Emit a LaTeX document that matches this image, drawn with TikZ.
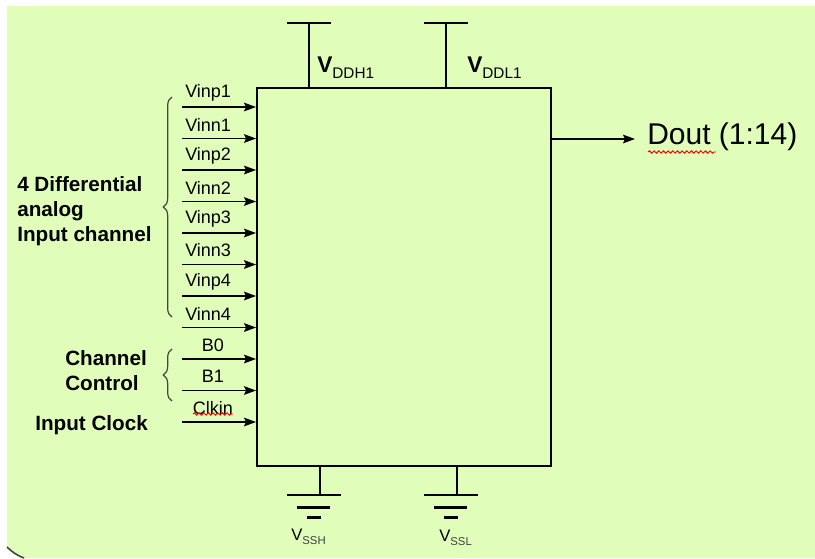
\documentclass[tikz,border=0pt]{standalone}
\usepackage{xcolor}
\usepackage{fontspec}
\setmainfont{Liberation Sans}
\usepackage{tikz}
\usetikzlibrary{arrows.meta,decorations.pathreplacing,decorations.pathmorphing}

\definecolor{bggreen}{RGB}{224,253,186}
\definecolor{bracegray}{RGB}{70,70,60}

\begin{document}
\begin{tikzpicture}[x=0.75pt,y=0.75pt,yscale=-1,xscale=1,
    sig/.style={-{Stealth[length=9pt,width=6.5pt,inset=1.5pt]},line width=1pt},
    rail/.style={line width=1.2pt},
    bar/.style={line width=1.6pt},
    pinlbl/.style={inner sep=0pt,font=\fontsize{13.5}{16}\selectfont},
    grouplbl/.style={inner sep=0pt,align=left,font=\bfseries\fontsize{15.5}{18.75}\selectfont},
    curly/.style={decorate,decoration={brace,amplitude=6.5pt},line width=0.9pt,color=bracegray},
    squiggle/.style={decorate,decoration={snake,amplitude=0.9pt,segment length=3.5pt},red,line width=0.7pt}]
            \useasboundingbox (0,0) rectangle (815,558);

            %Shape: Background
            \fill[bggreen] (7,6) -- (815,6) -- (815,558) -- (24,558) .. controls (16,555) and (11,551) .. (7,547) -- cycle ;
            \draw[color=bracegray,line width=1.2pt] (7,547) .. controls (11,551) and (16,555) .. (24,558) ;

            %Shape: Rectangle (converter block)
            \node[draw,line width=1.2pt,anchor=north west,inner sep=0pt,minimum width=220.5pt,minimum height=283.5pt] (adc) at (256,87) {};

            %Straight Lines: analog inputs
            \foreach \lab [count=\i] in {Vinp1,Vinn1,Vinp2,Vinn2,Vinp3,Vinn3,Vinp4,Vinn4}{
              \pgfmathsetmacro{\yy}{107+31.5*(\i-1)}
              \coordinate (in\i) at (182,\yy);
              \draw[sig] (in\i) -- (in\i -| adc.west);
              % Text Node
              \node[pinlbl,anchor=west] (lbl-\lab) at (185,\yy-14) {\lab};
            }
            %Straight Lines: control and clock inputs
            \foreach \lab [count=\i from 9] in {B0,B1,Clkin}{
              \pgfmathsetmacro{\yy}{107+31.5*(\i-1)}
              \coordinate (in\i) at (182,\yy);
              \draw[sig] (in\i) -- (in\i -| adc.west);
              % Text Node
              \node[pinlbl] (lbl-\lab) at (213,\yy-14) {\lab};
            }
            \draw[squiggle] (193,414) -- (233,414) ;

            %Braces
            \draw[curly] (172,317) -- (172,97) ;
            \draw[curly] (172,401) -- (172,349) ;

            % Text Node
            \node[grouplbl,anchor=north west] (grpdiff) at (17,176) {4 Differential\\analog\\Input channel};
            % Text Node
            \node[grouplbl,anchor=north west] (grpctrl) at (65,350) {Channel\\Control};
            % Text Node
            \node[grouplbl,anchor=west] (grpclk) at (35,425) {Input Clock};

            %Straight Lines: output
            \coordinate (dtip) at (635,139);
            \draw[sig] (dtip -| adc.east) -- (dtip) ;
            % Text Node
            \node[anchor=west,inner sep=0pt,font=\fontsize{22.5}{26}\selectfont] (dout) at (647,137) {Dout (1:14)};
            \draw[squiggle] (648,152) -- (716,152) ;

            %Supply rails (top)
            \coordinate (vddh) at (309,23);
            \coordinate (vddl) at (446,23);
            \foreach \s in {vddh,vddl}{
              \draw[rail] (\s) -- (\s |- adc.north) ;
              \draw[bar] (\s) ++(-22,0) -- ++(44,0) ;
            }
            % Text Node
            \node[anchor=base west,inner sep=0pt] (vddhlbl) at (317,72) {\fontsize{17}{20}\selectfont\bfseries V\raisebox{-5pt}{\mdseries\fontsize{11.5}{13}\selectfont DDH1}};
            % Text Node
            \node[anchor=base west,inner sep=0pt] (vddllbl) at (467,72) {\fontsize{17}{20}\selectfont\bfseries V\raisebox{-5pt}{\mdseries\fontsize{11.5}{13}\selectfont DDL1}};

            %Ground symbols (bottom)
            \coordinate (gndh) at (320,495);
            \coordinate (gndl) at (457,495);
            \foreach \g in {gndh,gndl}{
              \draw[rail] (\g |- adc.south) -- (\g) ;
              \draw[bar] (\g) ++(-33,0) -- ++(54,0) ;
              \draw[bar] (\g) ++(-23,12.5) -- ++(33,0) ;
              \draw[bar] (\g) ++(-13,22.5) -- ++(14,0) ;
            }
            % Text Node
            \node[anchor=base west,inner sep=0pt] (vsshlbl) at (291,540) {\fontsize{12.5}{15}\selectfont V\raisebox{-3pt}{\color{black!75}\fontsize{8.5}{10}\selectfont SSH}};
            % Text Node
            \node[anchor=base west,inner sep=0pt] (vssllbl) at (439,541) {\fontsize{12.5}{15}\selectfont V\raisebox{-3pt}{\color{black!75}\fontsize{8.5}{10}\selectfont SSL}};

\end{tikzpicture}
\end{document}
